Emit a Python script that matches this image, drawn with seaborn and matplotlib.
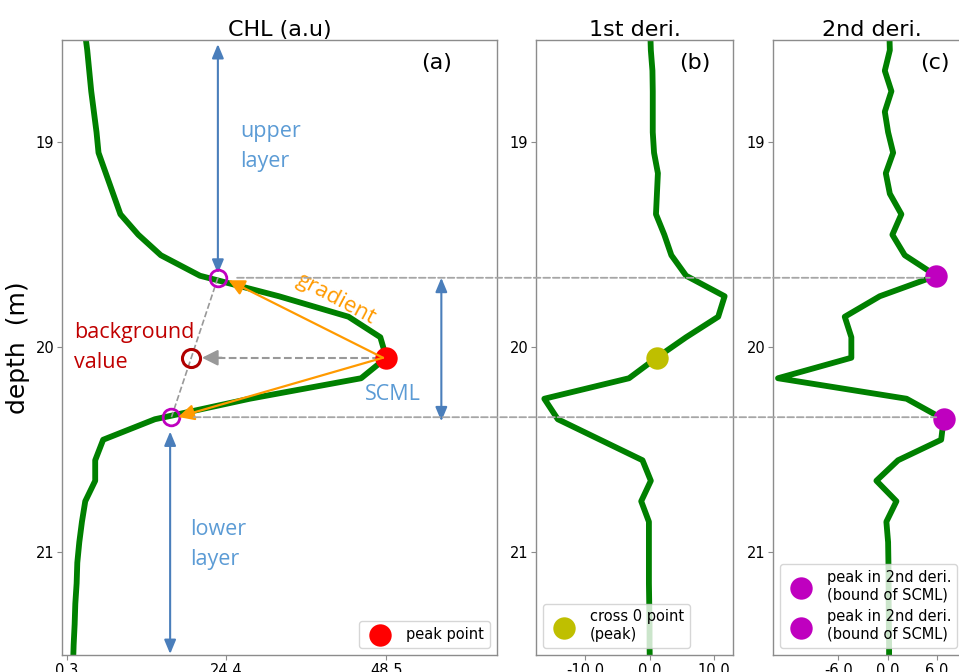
import matplotlib
matplotlib.use("Agg")
import matplotlib.pyplot as plt
import seaborn as sns
import pandas as pd
from matplotlib.patches import ConnectionPatch

# ---------------- data ----------------
depth = [18.45, 18.55, 18.65, 18.75, 18.85, 18.95, 19.05, 19.15, 19.25, 19.35,
         19.45, 19.55, 19.65, 19.75, 19.85, 19.95, 20.05, 20.15, 20.25, 20.35,
         20.45, 20.55, 20.65, 20.75, 20.85, 20.95, 21.05, 21.15, 21.25, 21.35,
         21.45, 21.55]
chl = [3.0, 3.4, 3.7, 4.0, 4.4, 4.8, 5.1, 6.2, 7.3, 8.4,
       11.1, 14.5, 20.4, 32.3, 42.8, 47.6, 48.5, 44.7, 27.9, 13.6,
       5.8, 4.6, 4.6, 3.1, 2.6, 2.2, 1.9, 1.8, 1.6, 1.5,
       1.35, 1.25]
deriv1 = [0.1, 0.2, 0.45, 0.5, 0.5, 0.5, 0.7, 1.3, 1.15, 1.0,
          2.3, 3.4, 5.7, 11.7, 10.7, 5.7, 1.1, -3.2, -16.4, -14.3,
          -7.7, -1.1, 0.2, -1.3, -0.1, -0.1, -0.1, -0.1, -0.05, 0.0,
          0.0, 0.05]
deriv2 = [0.2, 0.27, -0.34, 0.46, -0.34, 0.06, 0.67, -0.22, 0.27, 1.67,
          0.58, 2.08, 5.9, -0.95, -5.2, -4.4, -4.4, -13.3, 2.3, 6.8,
          6.5, 1.27, -1.36, 1.07, -0.15, 0.06, 0.1, 0.12, 0.13, 0.15,
          0.18, 0.18]

peak_depth = 20.05
peak_chl = 48.5
cross0_value = 1.1
bound_depths = [19.65, 20.35]
bound_line_depths = [19.66, 20.34]
bound_deriv2 = [5.9, 6.8]
bound_chl = [23.1, 16.1]
background_chl = 19.1
gradient_tips = [(24.7, 19.672), (17.1, 20.339)]
bg_arrow_tip = 20.7
hline_start_chl = [26.0, 19.5]
hline_end_deriv2 = [5.1, 5.9]

upper_arrow = (23.1, 18.52, 19.64)
lower_arrow = (15.9, 20.41, 21.495)
scml_arrow = (56.8, 19.66, 20.36)

xticks_a = [0.3, 24.4, 48.5]
xticklabels_a = ["0.3", "24.4", "48.5"]
xticks_b = [-10.0, 0.0, 10.0]
xticklabels_b = ["-10.0", "0.0", "10.0"]
xticks_c = [-6.0, 0.0, 6.0]
xticklabels_c = ["-6.0", "0.0", "6.0"]
yticks = [19, 20, 21]
yticklabels = ["19", "20", "21"]

titles = ["CHL (a.u)", "1st deri.", "2nd deri."]
panel_tags = ["(a)", "(b)", "(c)"]

df = pd.DataFrame({"depth": depth, "chl": chl, "d1": deriv1, "d2": deriv2})

# ---------------- style ----------------
sns.set_theme(style="ticks")
plt.rcParams['font.family'] = ['DejaVu Sans']
plt.rcParams['axes.edgecolor'] = '#8c8c8c'
plt.rcParams['axes.linewidth'] = 1.0
plt.rcParams['text.color'] = 'black'
plt.rcParams['axes.labelcolor'] = 'black'
plt.rcParams['xtick.labelcolor'] = 'black'
plt.rcParams['ytick.labelcolor'] = 'black'
plt.rcParams['legend.labelcolor'] = 'black'

GREEN = '#008000'
RED = '#ff0000'
YELLOW = '#bfbf00'
MAGENTA = '#bf00bf'
BLUE = '#4a7ebb'
LBLUE = '#5b9bd5'
ORANGE = '#ff9a00'
DRED = '#c00000'
ANN_FONT = ['Open Sans', 'DejaVu Sans']

fig = plt.figure(figsize=(9.59, 6.72), dpi=100)
ax_a = fig.add_axes([0.0647, 0.0253, 0.4536, 0.9152])
ax_b = fig.add_axes([0.5589, 0.0253, 0.2054, 0.9152])
ax_c = fig.add_axes([0.8061, 0.0253, 0.2054, 0.9152])

for ax, col in [(ax_a, "chl"), (ax_b, "d1"), (ax_c, "d2")]:
    sns.lineplot(data=df, x=col, y="depth", sort=False, estimator=None,
                 orient="y", color=GREEN, lw=4.2, ax=ax, zorder=2)

# markers
sns.scatterplot(x=[peak_chl], y=[peak_depth], color=RED, s=260, linewidth=0,
                label='peak point', ax=ax_a, zorder=6)
sns.scatterplot(x=[cross0_value], y=[peak_depth], color=YELLOW, s=260, linewidth=0,
                label='cross 0 point\n(peak)', ax=ax_b, zorder=6)
for d, v in zip(bound_depths, bound_deriv2):
    sns.scatterplot(x=[v], y=[d], color=MAGENTA, s=260, linewidth=0,
                    label='peak in 2nd deri.\n(bound of SCML)', ax=ax_c, zorder=6)

# open circles on panel a
ax_a.plot(bound_chl, bound_line_depths, ls='none', marker='o', ms=12,
          mfc='none', mec=MAGENTA, mew=2, zorder=7)
ax_a.plot([background_chl], [peak_depth], ls='none', marker='o', ms=13,
          mfc='none', mec='#b00000', mew=2.2, zorder=7)
# dashed line between bound points
ax_a.plot(bound_chl, bound_line_depths, ls='--', color='#999999', lw=1.2, zorder=3)
# dashed arrow toward background value
ax_a.plot([peak_chl - 1, bg_arrow_tip + 2], [peak_depth, peak_depth], ls='--',
          color='#999999', lw=1.5, zorder=3)
ax_a.annotate("", xy=(bg_arrow_tip, peak_depth), xytext=(bg_arrow_tip + 3, peak_depth),
              arrowprops=dict(arrowstyle='-|>', color='#999999', lw=1.5,
                              mutation_scale=24, shrinkA=0, shrinkB=0), zorder=4)
# gradient arrows
for tip in gradient_tips:
    ax_a.annotate("", xy=tip, xytext=(peak_chl - 0.5, peak_depth),
                  arrowprops=dict(arrowstyle='-|>', color=ORANGE, lw=1.6,
                                  mutation_scale=24, shrinkA=0, shrinkB=0), zorder=8)
# blue double arrows
for (x0, y0, y1) in [upper_arrow, lower_arrow, scml_arrow]:
    ax_a.annotate("", xy=(x0, y0), xytext=(x0, y1),
                  arrowprops=dict(arrowstyle='<|-|>,head_length=0.6,head_width=0.25',
                                  color=BLUE, lw=1.5, mutation_scale=14,
                                  shrinkA=0, shrinkB=0), zorder=5)

# texts
ax_a.text(26.5, 19.02, "upper\nlayer", color=LBLUE, fontsize=15.5, family=ANN_FONT,
          ha='left', va='center', linespacing=1.55)
ax_a.text(18.9, 20.96, "lower\nlayer", color=LBLUE, fontsize=15.5, family=ANN_FONT,
          ha='left', va='center', linespacing=1.55)
ax_a.text(1.4, 20.0, "background\nvalue", color=DRED, fontsize=15.5, family=ANN_FONT,
          ha='left', va='center', linespacing=1.6)
ax_a.text(45.3, 20.23, "SCML", color=LBLUE, fontsize=15.5, family=ANN_FONT,
          ha='left', va='center')
ax_a.text(40.9, 19.766, "gradient", color=ORANGE, fontsize=16, family=ANN_FONT,
          ha='center', va='center', rotation=-28, rotation_mode='anchor')

# axes formatting
lims = [(-0.4, 65.2), (-17.7, 13.0), (-13.9, 10.0)]
xt = [(xticks_a, xticklabels_a), (xticks_b, xticklabels_b), (xticks_c, xticklabels_c)]
for ax, lim, (tk, tl), title in zip([ax_a, ax_b, ax_c], lims, xt, titles):
    ax.set_xlim(*lim)
    ax.set_ylim(21.5, 18.5)
    ax.set_xticks(tk, tl)
    ax.set_yticks(yticks, yticklabels)
    ax.tick_params(labelsize=10.5, length=3.5, width=0.8, color='#8c8c8c', pad=2)
    ax.set_xlabel("")
    ax.set_ylabel("")
    ax.set_title(title, fontsize=16, pad=3, color='black')
    for s in ax.spines.values():
        s.set_visible(True)
ax_a.text(0.862, 0.963, panel_tags[0], transform=ax_a.transAxes, fontsize=16,
          ha='center', va='center')
ax_b.text(0.807, 0.963, panel_tags[1], transform=ax_b.transAxes, fontsize=16,
          ha='center', va='center')
ax_c.text(0.822, 0.963, panel_tags[2], transform=ax_c.transAxes, fontsize=16,
          ha='center', va='center')
ax_a.set_ylabel("depth  (m)", fontsize=18, labelpad=4, color='black')

ax_a.legend(loc='lower right', fontsize=10.5)
ax_b.legend(loc='lower left', fontsize=10.5)
ax_c.legend(loc='lower left', fontsize=10.5)

# dashed connectors across panels
for d, x0, x1 in zip(bound_line_depths, hline_start_chl, hline_end_deriv2):
    con = ConnectionPatch(xyA=(x0, d), coordsA='data', axesA=ax_a,
                          xyB=(x1, d), coordsB='data', axesB=ax_c,
                          ls='--', color='#a6a6a6', lw=1.3, zorder=1)
    fig.add_artist(con)

fig.savefig("out.png", dpi=100)
